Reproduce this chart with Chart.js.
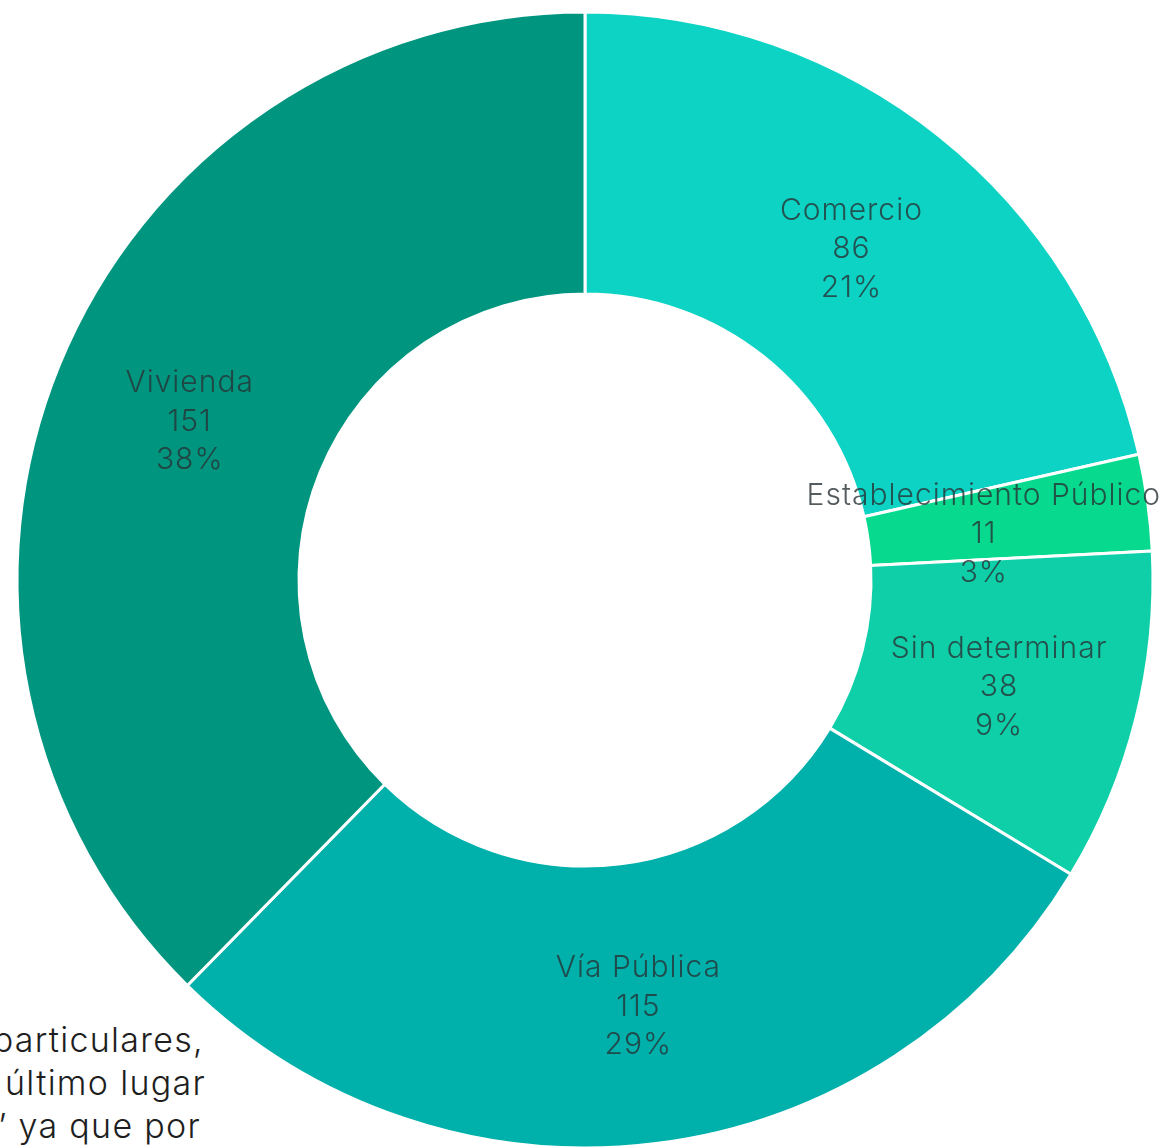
<!DOCTYPE html>
<html>
<head>
<meta charset="utf-8">
<script src="https://cdn.jsdelivr.net/npm/chart.js@4"></script>
<style>
  html, body { margin: 0; padding: 0; background: #ffffff; overflow: hidden; width: 1162px; height: 1148px; }
  #wrap { position: absolute; left: 0; top: 0; width: 1162px; height: 1170px; }
  .bg { position: absolute; font-family: Inter, sans-serif; font-weight: 300; font-size: 34px; letter-spacing: 1.3px; color: #1e1e1e; white-space: nowrap; text-align: right; line-height: 43px; }
</style>
</head>
<body>
<div class="bg" style="right:958px; top:1018px;">particulares,</div>
<div class="bg" style="right:956px; top:1061px;">último lugar</div>
<div class="bg" style="right:961px; top:1104px;">&#8221; ya que por</div>
<div id="wrap"><canvas id="c"></canvas></div>
<script>
const categories = ["Comercio", "Establecimiento Público", "Sin determinar", "Vía Pública", "Vivienda"];
const counts = [86, 11, 38, 115, 151];
const percentLabels = ["21%", "3%", "9%", "29%", "38%"];
const colors = ["#0CD3C3", "#07D98E", "#0FCFA8", "#00B0AA", "#00957F"];

const labelPlugin = {
  id: 'arcLabels',
  afterDatasetsDraw(chart) {
    const ctx = chart.ctx;
    const meta = chart.getDatasetMeta(0);
    ctx.save();
    ctx.font = '300 30px Inter, sans-serif';
    try { ctx.letterSpacing = '1px'; } catch (e) {}
    ctx.fillStyle = 'rgba(40,50,54,0.8)';
    ctx.textAlign = 'center';
    ctx.textBaseline = 'middle';
    const lh = 38.5;
    meta.data.forEach((arc, i) => {
      const p = arc.getCenterPoint();
      const lines = [categories[i], String(counts[i]), percentLabels[i]];
      const w = Math.max(...lines.map(t => ctx.measureText(t).width));
      let x = p.x;
      const maxX = chart.width - 1 - w / 2;
      let y = p.y + 3;
      if (x > maxX) { y += (x - maxX) * 0.4; x = maxX; }
      lines.forEach((t, k) => ctx.fillText(t, x, y + (k - 1) * lh));
    });
    ctx.restore();
  }
};

new Chart(document.getElementById('c'), {
  type: 'doughnut',
  data: {
    labels: categories,
    datasets: [{
      data: counts,
      backgroundColor: colors,
      borderColor: '#ffffff',
      borderWidth: 3
    }]
  },
  options: {
    responsive: true,
    maintainAspectRatio: false,
    animation: false,
    cutout: 286,
    layout: { padding: { left: 15.5, right: 7.5, top: 10.5, bottom: 20.5 } },
    plugins: { legend: { display: false }, tooltip: { enabled: false } }
  },
  plugins: [labelPlugin]
});
</script>
</body>
</html>
